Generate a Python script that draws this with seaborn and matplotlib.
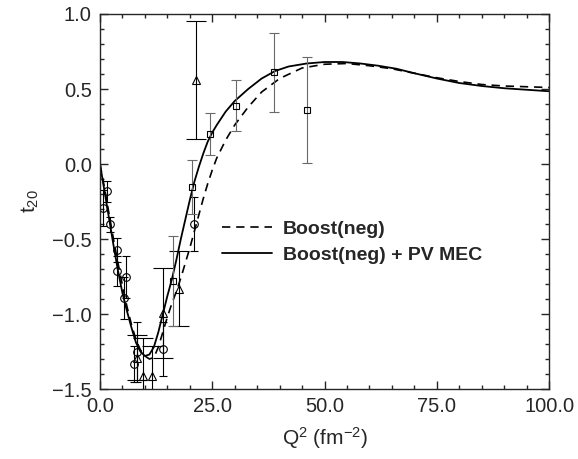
import matplotlib
matplotlib.use("Agg")
import matplotlib.pyplot as plt
import numpy as np
import pandas as pd
import seaborn as sns
from matplotlib.ticker import MultipleLocator, FuncFormatter


# theory curves
boost_q2 = [0, 1, 2, 3, 4, 5, 6, 7, 8, 9, 10, 11, 12, 13, 14, 15, 16, 17, 18, 19, 20,
            21, 22, 23, 24, 25, 26, 28, 30, 33, 36, 40, 45, 50, 55, 60, 65, 70, 75,
            80, 85, 90, 95, 100]
boost_t20 = [0.0, -0.16, -0.33, -0.50, -0.66, -0.81, -0.95, -1.07, -1.17, -1.24, -1.28,
             -1.30, -1.29, -1.22, -1.12, -1.02, -0.93, -0.85, -0.76, -0.66, -0.56,
             -0.45, -0.34, -0.23, -0.13, -0.04, 0.04, 0.16, 0.26, 0.38, 0.48, 0.57,
             0.64, 0.665, 0.67, 0.655, 0.635, 0.605, 0.575, 0.55, 0.53, 0.52, 0.515, 0.51]

mec_q2 = [0, 1, 2, 3, 4, 5, 6, 7, 8, 9, 10, 11, 12, 13, 14, 15, 16, 17, 18, 19, 20,
          21, 22, 23, 24, 25, 26, 28, 30, 33, 36, 39, 42, 46, 50, 54, 58, 62, 66, 70,
          75, 80, 85, 90, 95, 100]
mec_t20 = [0.0, -0.18, -0.36, -0.54, -0.71, -0.86, -0.98, -1.09, -1.19, -1.25, -1.28,
           -1.27, -1.22, -1.12, -1.00, -0.88, -0.77, -0.64, -0.50, -0.37, -0.24,
           -0.12, -0.02, 0.07, 0.15, 0.21, 0.26, 0.35, 0.42, 0.50, 0.57, 0.62, 0.65,
           0.67, 0.68, 0.68, 0.67, 0.655, 0.635, 0.605, 0.57, 0.54, 0.52, 0.505,
           0.495, 0.485]

# data points (three experiment sets)
circ_q2 = [0.6, 1.5, 2.3, 3.8, 3.8, 5.9, 5.3, 7.5, 8.3, 14.0, 21.0]
circ_t20 = [-0.29, -0.18, -0.40, -0.57, -0.71, -0.75, -0.89, -1.33, -1.25, -1.23, -0.40]
circ_err = [0.12, 0.07, 0.05, 0.08, 0.10, 0.14, 0.14, 0.12, 0.20, 0.18, 0.18]

tri_q2 = [8.3, 9.5, 11.5, 14.0, 17.6, 21.3]
tri_t20 = [-1.29, -1.41, -1.41, -0.99, -0.83, 0.56]
tri_err = [0.15, 0.25, 0.20, 0.30, 0.25, 0.39]

sq_q2 = [16.2, 20.4, 24.4, 30.2, 38.7, 46.0]
sq_t20 = [-0.78, -0.15, 0.20, 0.39, 0.61, 0.36]
sq_err = [0.30, 0.18, 0.14, 0.17, 0.26, 0.35]

sns.set_style("ticks")
plt.rcParams["font.family"] = ["Liberation Sans", "DejaVu Sans"]
plt.rcParams["mathtext.fontset"] = "custom"
plt.rcParams["mathtext.rm"] = "Liberation Sans"
plt.rcParams["mathtext.it"] = "Liberation Sans:italic"

fig = plt.figure(figsize=(5.78, 4.59), dpi=100)
ax = fig.add_axes([0.173, 0.1525, 0.777, 0.817])

curves = pd.DataFrame({"q2": boost_q2, "t20": boost_t20})
sns.lineplot(data=curves, x="q2", y="t20", ax=ax, color="black", lw=1.2,
             linestyle=(0, (5, 3.5)), label="Boost(neg)")
curves2 = pd.DataFrame({"q2": mec_q2, "t20": mec_t20})
sns.lineplot(data=curves2, x="q2", y="t20", ax=ax, color="black", lw=1.3,
             label="Boost(neg) + PV MEC")

ax.errorbar(circ_q2, circ_t20, yerr=circ_err, fmt="o", ms=5.5, mfc="none", mec="black",
            mew=0.8, ecolor="black", elinewidth=0.8, capsize=3, capthick=0.8)
ax.errorbar(tri_q2, tri_t20, yerr=tri_err, fmt="^", ms=6, mfc="none", mec="black",
            mew=0.8, ecolor="black", elinewidth=0.8, capsize=7.5, capthick=0.8)
ax.errorbar(sq_q2, sq_t20, yerr=sq_err, fmt="s", ms=5, mfc="none", mec="black",
            mew=0.8, ecolor="dimgray", elinewidth=0.8, capsize=3.5, capthick=0.8)

fmt = FuncFormatter(lambda v, p: f"{v:.1f}".replace("-", "\u2212"))
ax.set_xlim(0, 100)
ax.set_ylim(-1.5, 1.0)
ax.xaxis.set_major_locator(MultipleLocator(25))
ax.xaxis.set_minor_locator(MultipleLocator(5))
ax.yaxis.set_major_locator(MultipleLocator(0.5))
ax.yaxis.set_minor_locator(MultipleLocator(0.1))
ax.xaxis.set_major_formatter(fmt)
ax.yaxis.set_major_formatter(fmt)
ax.tick_params(which="both", direction="in", top=True, right=True, width=1.0,
               labelsize=14.5, pad=6)
ax.tick_params(which="major", length=6)
ax.tick_params(which="minor", length=3)
for s in ax.spines.values():
    s.set_linewidth(1.0)

ax.set_xlabel("Q$^2$ (fm$^{-2}$)", fontsize=15, labelpad=6)
ax.set_ylabel("t$_{20}$", fontsize=15, labelpad=8)

ax.legend(loc="center left", bbox_to_anchor=(0.232, 0.392), frameon=False,
          prop={"weight": "bold", "size": 14}, handlelength=2.6, handletextpad=0.55,
          labelspacing=0.4)

fig.savefig("out.png", dpi=100)
plt.close(fig)
